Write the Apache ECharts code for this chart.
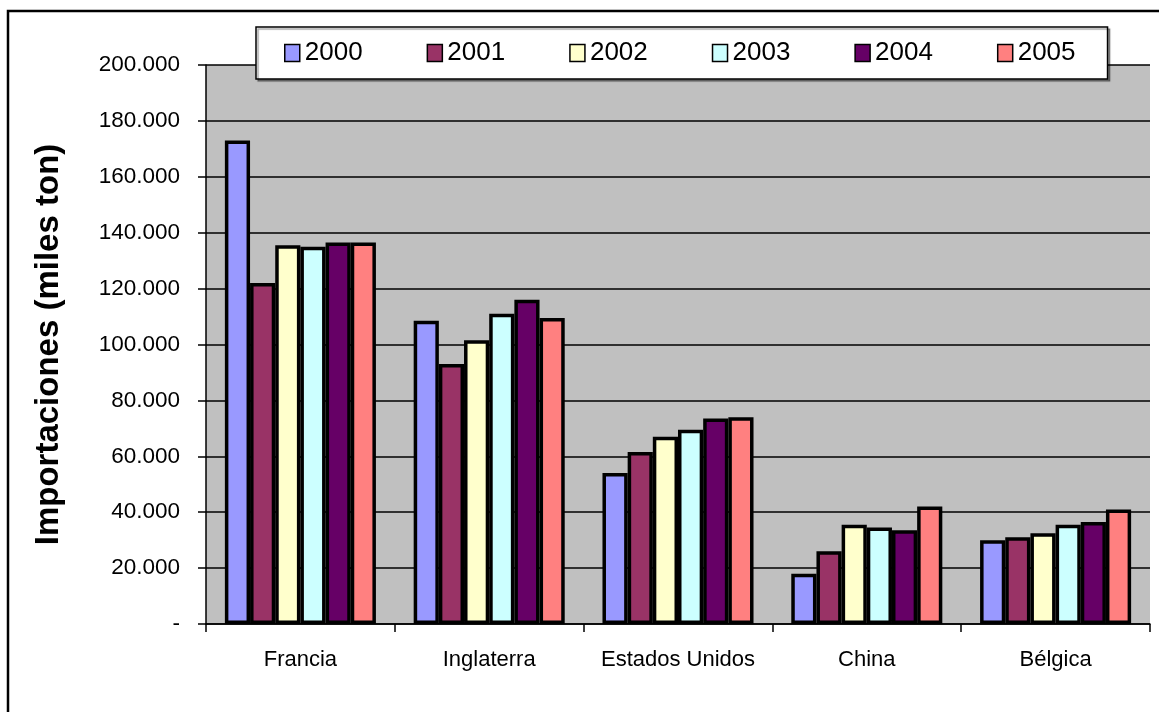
<!DOCTYPE html>
<html>
<head>
<meta charset="utf-8">
<script src="https://cdn.jsdelivr.net/npm/echarts@6/dist/echarts.min.js"></script>
<style>
html,body{margin:0;padding:0;background:#fff;}
#c{width:1159px;height:712px;}
</style>
</head>
<body>
<div id="c"></div>
<script>
var categories = ['Francia', 'Inglaterra', 'Estados Unidos', 'China', 'Bélgica'];
var years = ['2000', '2001', '2002', '2003', '2004', '2005'];
var v2000 = [173000, 108500, 54000, 18000, 30000];
var v2001 = [122000, 93000, 61500, 26000, 31000];
var v2002 = [135500, 101500, 67000, 35500, 32500];
var v2003 = [135000, 111000, 69500, 34500, 35500];
var v2004 = [136500, 116000, 73500, 33500, 36500];
var v2005 = [136500, 109500, 74000, 42000, 41000];
var colors = ['#9999FF', '#993366', '#FFFFCC', '#CCFFFF', '#660066', '#FF8080'];
var yTicks = {min: 0, max: 200000, interval: 20000};

var values = [v2000, v2001, v2002, v2003, v2004, v2005];
var font = "'Liberation Sans', Arial, sans-serif";

var chart = echarts.init(document.getElementById('c'));
chart.setOption({
  animation: false,
  backgroundColor: '#ffffff',
  graphic: [{
    type: 'rect',
    shape: {x: 8, y: 11, width: 1170, height: 720},
    style: {fill: 'none', stroke: '#000', lineWidth: 2.5},
    z: 100
  }],
  legend: {
    data: years,
    left: 256,
    top: 27,
    width: 820,
    padding: [13, 32, 13, 28],
    itemGap: 64,
    itemWidth: 15,
    itemHeight: 17,
    backgroundColor: '#ffffff',
    borderColor: '#000',
    borderWidth: 1.5,
    shadowColor: 'rgba(0,0,0,0.35)',
    shadowOffsetX: 2,
    shadowOffsetY: 2,
    shadowBlur: 1,
    icon: 'rect',
    itemStyle: {borderColor: '#000', borderWidth: 1.5},
    textStyle: {fontFamily: font, fontSize: 26, color: '#000'}
  },
  grid: {
    left: 206, right: 9, top: 65, bottom: 88,
    show: true, backgroundColor: '#C0C0C0', borderWidth: 0
  },
  xAxis: {
    type: 'category',
    data: categories,
    axisLine: {lineStyle: {color: '#000', width: 1.5}},
    axisTick: {show: true, length: 8, lineStyle: {color: '#000', width: 1.5}},
    axisLabel: {fontFamily: font, fontSize: 22, color: '#000', margin: 25, interval: 0}
  },
  yAxis: {
    type: 'value',
    min: yTicks.min, max: yTicks.max, interval: yTicks.interval,
    name: 'Importaciones (miles ton)',
    nameLocation: 'middle',
    nameGap: 141,
    nameRotate: 90,
    nameTextStyle: {fontFamily: font, fontWeight: 'bold', fontSize: 33, color: '#000'},
    axisLine: {show: true, lineStyle: {color: '#000', width: 1.5}},
    axisTick: {show: true, length: 8, lineStyle: {color: '#000', width: 1.5}},
    axisLabel: {
      fontFamily: font, fontSize: 22.5, color: '#000', margin: 26,
      formatter: function (v) { return v === 0 ? '-' : (v / 1000) + '.000'; }
    },
    splitLine: {show: true, lineStyle: {color: '#000', width: 1.5}}
  },
  series: years.map(function (y, i) {
    return {
      name: y,
      type: 'bar',
      data: values[i],
      barGap: '0%',
      barCategoryGap: '20%',
      itemStyle: {color: colors[i], borderColor: '#000', borderWidth: 3.5}
    };
  })
});
</script>
</body>
</html>
